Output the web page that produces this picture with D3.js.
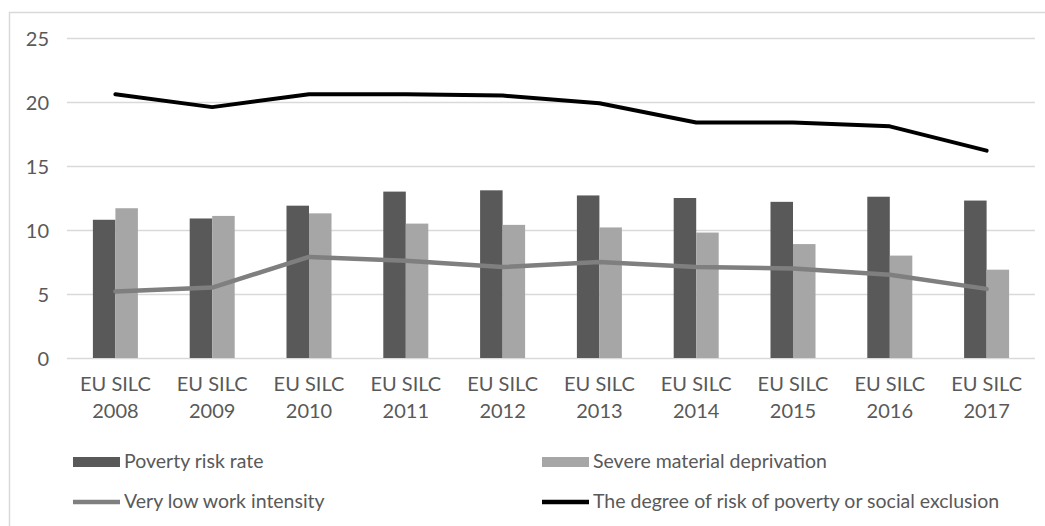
<!DOCTYPE html>
<html>
<head>
<meta charset="utf-8">
<script src="https://cdn.jsdelivr.net/npm/d3@7/dist/d3.min.js"></script>
<style>
  html, body { margin: 0; padding: 0; background: #ffffff; }
  svg { display: block; }
  text { font-family: Lato, "Open Sans", sans-serif; fill: #595959; }
</style>
</head>
<body>
<svg id="chart" width="1045" height="526"></svg>
<script>
// Survey waves on the category axis
const years = ["2008", "2009", "2010", "2011", "2012", "2013", "2014", "2015", "2016", "2017"];
const categoryPrefix = "EU SILC";

// Indicator values (%)
const povertyRisk = [10.8, 10.9, 11.9, 13.0, 13.1, 12.7, 12.5, 12.2, 12.6, 12.3];
const materialDeprivation = [11.7, 11.1, 11.3, 10.5, 10.4, 10.2, 9.8, 8.9, 8.0, 6.9];
const lowWorkIntensity = [5.2, 5.5, 7.9, 7.6, 7.1, 7.5, 7.1, 7.0, 6.5, 5.4];
const povertyOrExclusion = [20.6, 19.6, 20.6, 20.6, 20.5, 19.9, 18.4, 18.4, 18.1, 16.2];

const yTicks = [0, 5, 10, 15, 20, 25];

const seriesNames = {
  poverty: "Poverty risk rate",
  deprivation: "Severe material deprivation",
  work: "Very low work intensity",
  exclusion: "The degree of risk of poverty or social exclusion"
};

const colors = {
  poverty: "#595959",
  deprivation: "#a6a6a6",
  work: "#7f7f7f",
  exclusion: "#000000"
};

const svg = d3.select("#chart");

// Outer chart frame
svg.append("rect")
  .attr("x", 9.5).attr("y", 12.5)
  .attr("width", 1045).attr("height", 530)
  .attr("fill", "none").attr("stroke", "#d9d9d9").attr("stroke-width", 1.5);

const plot = { left: 67, right: 1035, top: 38, bottom: 358 };

const x = d3.scaleBand()
  .domain(years)
  .range([plot.left, plot.right])
  .paddingInner(0.535)
  .paddingOuter(0.2675);

const xSub = d3.scaleBand()
  .domain(["poverty", "deprivation"])
  .range([0, x.bandwidth()]);

const y = d3.scaleLinear()
  .domain([0, 25])
  .range([plot.bottom, plot.top]);

// Horizontal gridlines
svg.append("g")
  .selectAll("line")
  .data(yTicks)
  .join("line")
  .attr("x1", plot.left).attr("x2", plot.right)
  .attr("y1", d => Math.round(y(d)) + 0.5)
  .attr("y2", d => Math.round(y(d)) + 0.5)
  .attr("stroke", "#d9d9d9")
  .attr("stroke-width", 1.5);

// Y axis labels
const yAxis = d3.axisLeft(y).tickValues(yTicks).tickSize(0).tickPadding(0);
svg.append("g")
  .attr("transform", `translate(${plot.left - 18},0)`)
  .call(yAxis)
  .call(g => g.select(".domain").remove())
  .call(g => g.selectAll("text")
    .attr("font-family", null)
    .attr("font-size", 20)
    .attr("fill", "#595959")
    .attr("dy", "0.35em"));

// X axis labels (two lines)
const xAxis = d3.axisBottom(x).tickSize(0).tickFormat("");
const xg = svg.append("g")
  .attr("transform", `translate(0,${plot.bottom})`)
  .call(xAxis)
  .call(g => g.select(".domain").remove());
xg.selectAll(".tick").each(function(d) {
  const t = d3.select(this).append("text")
    .attr("text-anchor", "middle")
    .attr("font-size", 20)
    .style("fill", "#595959");
  t.append("tspan").attr("x", 0).attr("y", 33).text(categoryPrefix);
  t.append("tspan").attr("x", 0).attr("y", 60).text(d);
});

// Bars
const barData = years.map((yr, i) => ({
  year: yr,
  values: [
    { key: "poverty", value: povertyRisk[i] },
    { key: "deprivation", value: materialDeprivation[i] }
  ]
}));

svg.append("g")
  .selectAll("g")
  .data(barData)
  .join("g")
  .attr("transform", d => `translate(${x(d.year)},0)`)
  .selectAll("rect")
  .data(d => d.values)
  .join("rect")
  .attr("x", d => xSub(d.key))
  .attr("width", xSub.bandwidth())
  .attr("y", d => y(d.value))
  .attr("height", d => y(0) - y(d.value))
  .attr("fill", d => colors[d.key]);

// Lines
const cx = yr => x(yr) + x.bandwidth() / 2;
const line = d3.line()
  .x((d, i) => cx(years[i]))
  .y(d => y(d));

svg.append("path")
  .datum(lowWorkIntensity)
  .attr("d", line)
  .attr("fill", "none")
  .attr("stroke", colors.work)
  .attr("stroke-width", 4.5)
  .attr("stroke-linejoin", "round")
  .attr("stroke-linecap", "round");

svg.append("path")
  .datum(povertyOrExclusion)
  .attr("d", line)
  .attr("fill", "none")
  .attr("stroke", colors.exclusion)
  .attr("stroke-width", 4)
  .attr("stroke-linejoin", "round")
  .attr("stroke-linecap", "round");

// Legend
const legendItems = [
  { key: "poverty", type: "bar", x: 73, y: 462 },
  { key: "deprivation", type: "bar", x: 542, y: 462 },
  { key: "work", type: "line", x: 73, y: 502 },
  { key: "exclusion", type: "line", x: 542, y: 502 }
];

const lg = svg.append("g")
  .selectAll("g")
  .data(legendItems)
  .join("g")
  .attr("transform", d => `translate(${d.x},${d.y})`);

lg.filter(d => d.type === "bar")
  .append("rect")
  .attr("x", 0).attr("y", -5)
  .attr("width", 47).attr("height", 10)
  .attr("fill", d => colors[d.key]);

lg.filter(d => d.type === "line")
  .append("line")
  .attr("x1", 0).attr("x2", 47)
  .attr("y1", 0).attr("y2", 0)
  .attr("stroke", d => colors[d.key])
  .attr("stroke-width", 4.5);

lg.append("text")
  .attr("x", 51)
  .attr("y", 0)
  .attr("dy", "0.3em")
  .attr("font-size", 19.5)
  .text(d => seriesNames[d.key]);
</script>
</body>
</html>
